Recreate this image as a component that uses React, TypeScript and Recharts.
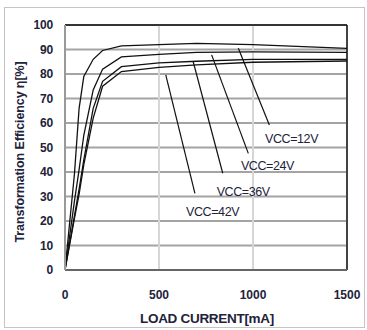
import React from 'react';
import {
  LineChart,
  Line,
  XAxis,
  YAxis,
  CartesianGrid,
  ReferenceLine,
  ReferenceDot,
  Label,
} from 'recharts';

// load current in mA, shared by all four curves
const loadCurrent = [0, 50, 75, 100, 150, 200, 300, 500, 700, 1000, 1500];
const vcc12 = [0, 39, 66, 79, 86, 89.6, 91.5, 92, 92.5, 92, 90.5];
const vcc24 = [0, 28, 41, 55, 73.5, 82, 87, 88, 88.8, 89, 88.8];
const vcc36 = [0, 22, 33, 45, 66, 77, 83, 84.5, 85.2, 86, 86];
const vcc42 = [0, 21, 31, 43, 62, 75, 81, 82.7, 83.7, 84.8, 85.3];

const xTicks = [0, 500, 1000, 1500];
const yTicks = [0, 10, 20, 30, 40, 50, 60, 70, 80, 90, 100];

// callout labels and their leader lines (data coords)
const calloutText = ['VCC=12V', 'VCC=24V', 'VCC=36V', 'VCC=42V'];
const calloutPos = [
  [1205, 53.5],
  [1077, 42.6],
  [948, 32.2],
  [785, 24],
];
const leaderFrom = [
  [922, 90.5],
  [780, 87.8],
  [682, 85],
  [536, 79.6],
];
const leaderTo = [
  [1087, 59.2],
  [975, 47.6],
  [839, 39.5],
  [691, 31.3],
];

const chartData = loadCurrent.map((x, i) => ({
  x,
  v12: vcc12[i],
  v24: vcc24[i],
  v36: vcc36[i],
  v42: vcc42[i],
}));

const FONT = '"Liberation Sans", Arial, sans-serif';
const TEXT = '#22223a';

const YTick = (props: any) => (
  <text
    x={53}
    y={props.y}
    textAnchor="end"
    dominantBaseline="central"
    fontFamily={FONT}
    fontSize={12}
    fontWeight="bold"
    letterSpacing={-0.2}
    fill={TEXT}
  >
    {props.payload.value}
  </text>
);

const XTick = (props: any) => (
  <text
    x={props.x}
    y={295}
    textAnchor="middle"
    dominantBaseline="central"
    fontFamily={FONT}
    fontSize={12}
    fontWeight="bold"
    fill={TEXT}
  >
    {props.payload.value}
  </text>
);

export default function App() {
  return (
    <div style={{ position: 'absolute', left: 0, top: 0, width: 367, height: 330, background: '#fff' }}>
      <div
        style={{
          position: 'absolute',
          left: 4,
          top: 7,
          width: 361,
          height: 321,
          border: '1px solid #c4c4c4',
          boxSizing: 'border-box',
        }}
      />
      <div style={{ position: 'absolute', left: 0, top: 0 }}>
        <LineChart
          width={367}
          height={330}
          data={chartData}
          margin={{ top: 25, right: 20, left: 0, bottom: 0 }}
        >
          <CartesianGrid vertical={false} stroke="#a4a4a4" strokeWidth={2} />
          <CartesianGrid horizontal={false} stroke="#d6d6d6" strokeWidth={2} />
          <XAxis
            dataKey="x"
            type="number"
            domain={[0, 1500]}
            ticks={xTicks}
            height={60}
            tickLine={false}
            axisLine={{ stroke: '#666', strokeWidth: 2 }}
            tick={<XTick />}
          >
            <Label
              content={() => (
                <text
                  x={207}
                  y={318}
                  textAnchor="middle"
                  dominantBaseline="central"
                  fontFamily={FONT}
                  fontSize={13.5}
                  fontWeight="bold"
                  letterSpacing={-0.3}
                  fill={TEXT}
                >
                  LOAD CURRENT[mA]
                </text>
              )}
            />
          </XAxis>
          <YAxis
            type="number"
            domain={[0, 100]}
            ticks={yTicks}
            width={65}
            tickLine={false}
            axisLine={{ stroke: '#999', strokeWidth: 2 }}
            tick={<YTick />}
          >
            <Label
              content={() => (
                <text
                  x={20}
                  y={152}
                  transform="rotate(-90 20 152)"
                  textAnchor="middle"
                  dominantBaseline="central"
                  fontFamily={FONT}
                  fontSize={12.5}
                  fontWeight="bold"
                  letterSpacing={-0.1}
                  fill={TEXT}
                >
                  Transformation Efficiency η[%]
                </text>
              )}
            />
          </YAxis>
          <ReferenceLine y={100} stroke="#111" strokeWidth={1.5} />
          <ReferenceLine x={1500} stroke="#111" strokeWidth={1.5} />
          <Line dataKey="v12" stroke="#111" strokeWidth={1.3} dot={false} isAnimationActive={false} />
          <Line dataKey="v24" stroke="#111" strokeWidth={1.3} dot={false} isAnimationActive={false} />
          <Line dataKey="v36" stroke="#111" strokeWidth={1.3} dot={false} isAnimationActive={false} />
          <Line dataKey="v42" stroke="#111" strokeWidth={1.3} dot={false} isAnimationActive={false} />
          {calloutText.map((t, i) => (
            <ReferenceLine
              key={'l' + t}
              segment={[
                { x: leaderFrom[i][0], y: leaderFrom[i][1] },
                { x: leaderTo[i][0], y: leaderTo[i][1] },
              ]}
              stroke="#111"
              strokeWidth={1.2}
            />
          ))}
          {calloutText.map((t, i) => (
            <ReferenceDot
              key={'d' + t}
              x={calloutPos[i][0]}
              y={calloutPos[i][1]}
              r={0}
              stroke="none"
              fill="none"
              label={{
                value: t,
                position: 'center',
                fill: TEXT,
                fontSize: 12.5,
                letterSpacing: -0.4,
                fontFamily: FONT,
              }}
            />
          ))}
        </LineChart>
      </div>
    </div>
  );
}
